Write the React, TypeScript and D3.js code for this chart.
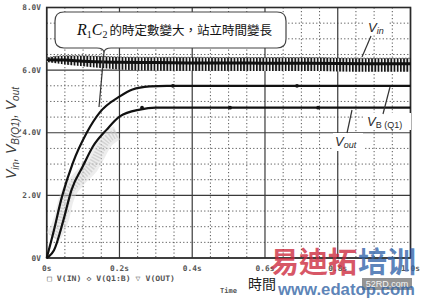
import React from 'react';
import * as d3 from 'd3';

// ---- data ----
const timeTicks = [0, 0.2, 0.4, 0.6, 0.8, 1.0];
const timeLabels = ['0s', '0.2s', '0.4s', '0.6s', '0.8s', '1.0s'];
const voltTicks = [0, 2, 4, 6, 8];
const voltLabels = ['0V', '2.0V', '4.0V', '6.0V', '8.0V'];

// V(Q1:B) – base voltage
const vbT = [0, 0.018, 0.042, 0.072, 0.110, 0.146, 0.201, 0.236, 0.283, 0.33, 1.0];
const vbV = [0, 0.8, 1.96, 3.04, 4.0, 4.65, 5.16, 5.38, 5.48, 5.5, 5.5];

// V(OUT)
const voutT = [0, 0.006, 0.02, 0.046, 0.068, 0.099, 0.127, 0.165, 0.201, 0.256, 0.30, 1.0];
const voutV = [0, 0.05, 0.25, 1.21, 2.17, 2.92, 3.56, 4.10, 4.52, 4.74, 4.8, 4.8];

// grey hatched trace near the rising edges
const greyT = [0.017, 0.042, 0.053, 0.086, 0.121, 0.165, 0.193];
const greyV = [0.67, 1.31, 1.85, 2.49, 2.91, 3.77, 3.99];

// V(IN) ripple band envelopes
const vinT = [0, 0.05, 0.1, 0.2, 0.3, 0.4, 0.5, 0.6, 0.7, 0.8, 0.9, 1.0];
const vinTop = [6.40, 6.46, 6.46, 6.42, 6.41, 6.41, 6.40, 6.40, 6.40, 6.39, 6.38, 6.38];
const vinMid = [6.33, 6.32, 6.28, 6.25, 6.24, 6.23, 6.23, 6.22, 6.22, 6.21, 6.20, 6.20];
const vinBottom = [6.26, 6.18, 6.12, 6.02, 5.99, 5.98, 5.98, 5.97, 5.97, 5.96, 5.95, 5.95];

// marker symbols on the settled traces
const voutMarkT = [0.262, 0.504, 0.746];
const vbMarkT = [0.347, 0.688];

const legendText = '\u25A1 V(IN)  \u25C7 V(Q1:B)  \u25BD V(OUT)';
const calloutCJK = '的時定數變大，站立時間變長';

export default function App() {
  const W = 421, H = 299;
  const x = d3.scaleLinear().domain([0, 1]).range([46.7, 410.5]);
  const y = d3.scaleLinear().domain([0, 8]).range([258, 7.5]);

  const mkLine = (ts: number[], vs: number[]) =>
    d3.line<number>()
      .x((i) => x(ts[i]))
      .y((i) => y(vs[i]))
      .curve(d3.curveMonotoneX)(d3.range(ts.length)) as string;

  const vinArea = d3.area<number>()
    .x((i) => x(vinT[i]))
    .y0((i) => y(vinBottom[i]))
    .y1((i) => y(vinTop[i]))
    .curve(d3.curveMonotoneX)(d3.range(vinT.length)) as string;

  const minorT = d3.range(0.05, 1.0, 0.05).filter((t) => Math.abs(t / 0.2 - Math.round(t / 0.2)) > 1e-6);
  const minorV = d3.range(0.5, 8.0, 0.5).filter((v) => Math.abs(v / 2 - Math.round(v / 2)) > 1e-6);

  const x0 = x(0), x1 = x(1), y0 = y(0), y1 = y(8);
  const mono = '"DejaVu Sans Mono", monospace';
  const sans = '"Liberation Sans", Arial, sans-serif';
  const cjk = '"Noto Sans CJK TC", "Noto Sans CJK SC", sans-serif';

  // callout shape
  const cx0 = 55, cx1 = 286, cy0 = 12, cy1 = 48, r = 9, nx = 104;
  const callout = `M${cx0 + r},${cy0} H${cx1 - r} Q${cx1},${cy0} ${cx1},${cy0 + r} V${cy1 - r} Q${cx1},${cy1} ${cx1 - r},${cy1}
    H${nx + 7} Q${nx + 1},${cy1} ${nx},${cy1 + 4} Q${nx - 1},${cy1} ${nx - 7},${cy1} H${cx0 + r} Q${cx0},${cy1} ${cx0},${cy1 - r} V${cy0 + r} Q${cx0},${cy0} ${cx0 + r},${cy0} Z`;

  return (
    <svg width={W} height={H} style={{ position: 'absolute', left: 0, top: 0, background: '#fff' }}>
      <defs>
        <pattern id="ripple" width="3.2" height="40" patternUnits="userSpaceOnUse">
          <rect width="3.2" height="40" fill="#fff" />
          <rect x="0" width="1.8" height="40" fill="#151515" />
        </pattern>
      </defs>
      <rect width={W} height={H} fill="#fff" />

      {/* minor dotted grid */}
      {minorT.map((t) => (
        <line key={'mt' + t} x1={x(t)} x2={x(t)} y1={y1} y2={y0} stroke="#555" strokeWidth={1} strokeDasharray="1.2,2.3" />
      ))}
      {minorV.map((v) => (
        <line key={'mv' + v} x1={x0} x2={x1} y1={y(v)} y2={y(v)} stroke="#555" strokeWidth={1} strokeDasharray="1.2,2.3" />
      ))}
      {/* major grid */}
      {timeTicks.map((t) => (
        <line key={'Mt' + t} x1={x(t)} x2={x(t)} y1={y1} y2={y0} stroke="#3a3a3a" strokeWidth={1.2} />
      ))}
      {voltTicks.map((v) => (
        <line key={'Mv' + v} x1={x0} x2={x1} y1={y(v)} y2={y(v)} stroke="#3a3a3a" strokeWidth={1.2} />
      ))}
      <rect x={x0} y={y1} width={x1 - x0} height={y0 - y1} fill="none" stroke="#2a2a2a" strokeWidth={1.6} />

      {/* grey hatched trace */}
      <path d={mkLine(greyT, greyV)} fill="none" stroke="#d6d6d6" strokeWidth={15} opacity={0.45} />
      <path d={mkLine(greyT, greyV)} fill="none" stroke="#c2c2c2" strokeWidth={9} strokeDasharray="1.4,1.6" opacity={0.6} />

      {/* curves */}
      <path d={mkLine(vbT, vbV)} fill="none" stroke="#111" strokeWidth={2.2} />
      <path d={mkLine(voutT, voutV)} fill="none" stroke="#111" strokeWidth={2.2} />
      {voutMarkT.map((t) => <circle key={'om' + t} cx={x(t)} cy={y(4.8)} r={1.9} fill="#111" />)}
      {vbMarkT.map((t) => <circle key={'bm' + t} cx={x(t)} cy={y(5.5)} r={1.9} fill="#111" />)}

      {/* V(IN) ripple band */}
      <path d={vinArea} fill="url(#ripple)" />
      <path d={mkLine(vinT, vinTop)} fill="none" stroke="#222" strokeWidth={0.8} strokeDasharray="1.6,1.6" />
      <path d={mkLine(vinT, vinMid)} fill="none" stroke="#111" strokeWidth={3} />

      {/* trace labels */}
      <rect x={365} y={19} width={24} height={16} fill="#fff" />
      <text x={368} y={32} fontFamily={sans} fontStyle="italic" fontSize={13} fill="#2a2a2a">
        V<tspan fontSize={9} dy={2}>in</tspan>
      </text>
      <line x1={371} y1={36} x2={362} y2={57} stroke="#333" strokeWidth={1.2} />

      <rect x={365} y={113} width={46} height={17} fill="#fff" />
      <text x={367} y={126} fontFamily={sans} fontStyle="italic" fontSize={13} fill="#2a2a2a">
        V<tspan fontSize={9} dy={2} fontStyle="normal">B (Q1)</tspan>
      </text>
      <line x1={383} y1={114} x2={390} y2={87} stroke="#333" strokeWidth={1.2} />

      <rect x={333} y={133} width={30} height={18} fill="#fff" />
      <text x={335} y={146} fontFamily={sans} fontStyle="italic" fontSize={13} fill="#2a2a2a">
        V<tspan fontSize={9} dy={2}>out</tspan>
      </text>
      <line x1={347} y1={133} x2={352} y2={110} stroke="#333" strokeWidth={1.2} />

      {/* callout */}
      <path d={callout} fill="#fff" stroke="#444" strokeWidth={1.2} />
      <line x1={nx} y1={cy1 + 4} x2={99} y2={107} stroke="#333" strokeWidth={1.2} />
      <text x={77} y={35} fill="#111">
        <tspan fontFamily='"Liberation Serif", serif' fontStyle="italic" fontSize={16}>R</tspan>
        <tspan fontFamily='"Liberation Serif", serif' fontSize={10} dy={3}>1</tspan>
        <tspan fontFamily='"Liberation Serif", serif' fontStyle="italic" fontSize={16} dy={-3}>C</tspan>
        <tspan fontFamily='"Liberation Serif", serif' fontSize={10} dy={3}>2</tspan>
        <tspan fontFamily={cjk} fontSize={12.5} dy={-3} dx={2}>{calloutCJK}</tspan>
      </text>

      {/* tick labels */}
      {voltTicks.map((v, i) => (
        <text key={'vl' + v} x={41} y={y(v)} dy="0.35em" textAnchor="end" fontFamily={mono} fontWeight="bold" fontSize={7.8} fill="#555">
          {voltLabels[i]}
        </text>
      ))}
      {timeTicks.map((t, i) => (
        <text key={'tl' + t} x={x(t)} y={268} dy="0.35em" textAnchor="middle" fontFamily={mono} fontWeight="bold" fontSize={7.8} fill="#555">
          {timeLabels[i]}
        </text>
      ))}
      <text x={47} y={278} dy="0.35em" fontFamily={mono} fontWeight="bold" fontSize={7.5} fill="#555" textLength={128} lengthAdjust="spacingAndGlyphs">
        {legendText}
      </text>
      <text x={220} y={291} dy="0.35em" fontFamily={mono} fontWeight="bold" fontSize={7} fill="#555">Time</text>
      <text x={248} y={284} dy="0.35em" fontFamily={cjk} fontSize={14} fill="#222">時間</text>

      {/* y axis title */}
      <text transform="translate(16,133) rotate(-90)" textAnchor="middle" fontFamily={sans} fontStyle="italic" fontSize={14} fill="#3a3a3a">
        <tspan>V</tspan><tspan fontSize={10} dy={3}>in</tspan>
        <tspan dy={-3}>, V</tspan><tspan fontSize={10} dy={3}>B(Q1)</tspan>
        <tspan dy={-3}>, V</tspan><tspan fontSize={10} dy={3}>out</tspan>
      </text>

      {/* watermark */}
      <text x={270} y={263} dy="0.36em" fontFamily={cjk} fontWeight="bold" fontSize={29} fill="rgba(205,40,60,0.78)">易迪拓</text>
      <text x={358} y={263} dy="0.36em" fontFamily={cjk} fontWeight="bold" fontSize={29} fill="rgba(50,100,170,0.78)">培训</text>
      <rect x={362} y={278} width={50} height={12} fill="rgba(90,90,90,0.65)" />
      <text x={278} y={289} dy="0.35em" fontFamily={sans} fontWeight="bold" fontSize={17} fill="rgba(50,100,165,0.8)" textLength={137} lengthAdjust="spacingAndGlyphs">www.edatop.com</text>
      <text x={387} y={284} dy="0.35em" textAnchor="middle" fontFamily={sans} fontSize={9} fill="#f4f4f4">52RD.com</text>
    </svg>
  );
}
